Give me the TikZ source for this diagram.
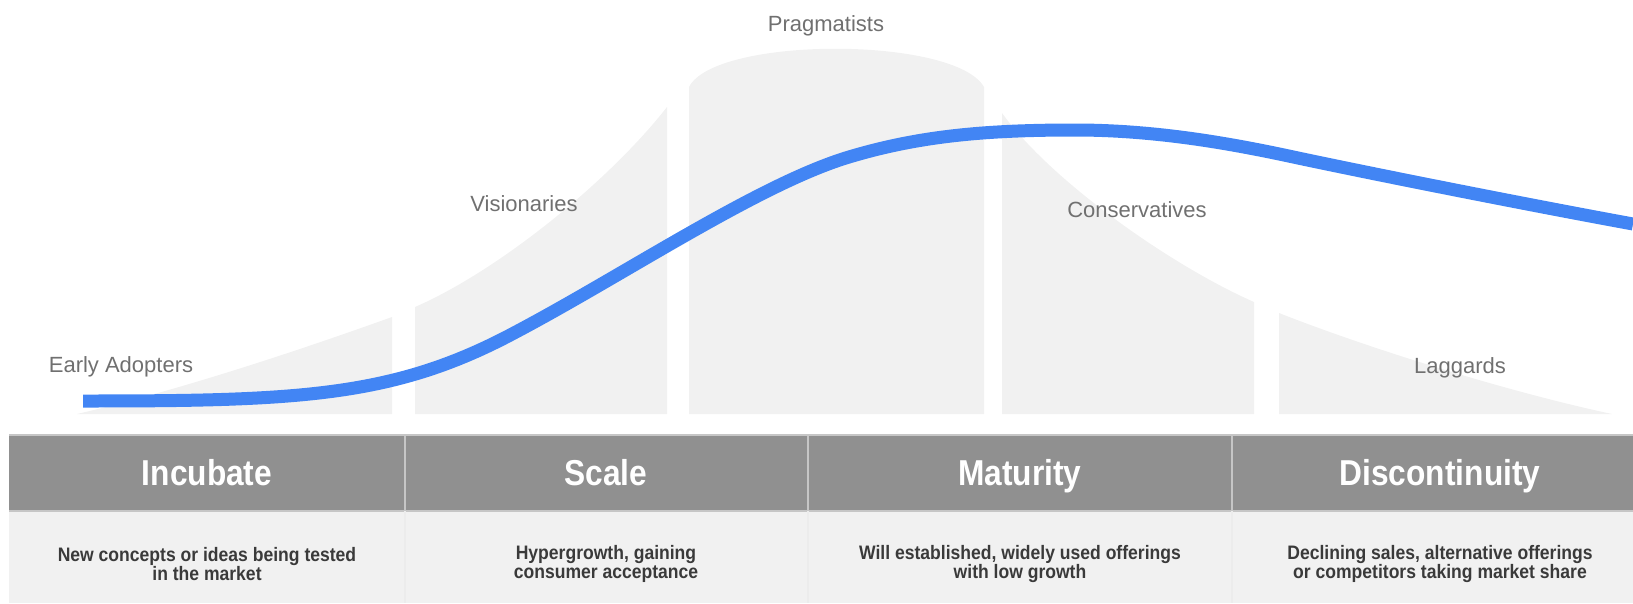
\documentclass[tikz,border=0pt]{standalone}
\usepackage{fontspec}
\setmainfont{Liberation Sans}
\newfontfamily\condfont[FakeStretch=0.88]{Liberation Sans}
\newfontfamily\blurbfont[FakeStretch=0.9]{Liberation Sans}
\usetikzlibrary{positioning}
\definecolor{curveblue}{HTML}{4285F4}
\definecolor{bellgray}{HTML}{F1F1F1}
\definecolor{labelgray}{HTML}{707070}
\definecolor{headgray}{HTML}{909090}
\definecolor{bodytext}{HTML}{3A3A3A}
\definecolor{rulegray}{HTML}{C6C6C6}
\tikzset{
  seg/.style={fill=bellgray},
  group/.style={text=labelgray, anchor=base, inner sep=0pt,
      font=\fontsize{22}{22}\selectfont},
  phase/.style={text=white, anchor=base, inner sep=0pt,
      font=\condfont\bfseries\fontsize{36}{36}\selectfont},
  blurb/.style={text=bodytext, align=center, inner sep=0pt,
      font=\blurbfont\bfseries\fontsize{19.5}{19.3}\selectfont},
}

\begin{document}
\begin{tikzpicture}[x=1pt, y=-1pt]
      \useasboundingbox (0,0) rectangle (1633,603);

      % adopter groups under the bell
      \fill [seg] (77,414) .. controls (180,390) and (300,350) .. (392,317) -- (392,414) -- cycle;
      \fill [seg] (415,414) -- (415,307) .. controls (500,270) and (610,180) .. (667,107) -- (667,414) -- cycle;
      \fill [seg] (689,414) -- (689,87) .. controls (715,36) and (955,36) .. (984,87) -- (984,414) -- cycle;
      \fill [seg] (1002,414) -- (1002,113) .. controls (1050,180) and (1170,265) .. (1254,302) -- (1254,414) -- cycle;
      \fill [seg] (1279,414) -- (1279,313) .. controls (1360,345) and (1500,390) .. (1612,414) -- cycle;

      \node [group] (early) at (121,372) {Early Adopters};
      \node [group] (vision) at (524,211) {Visionaries};
      \node [group] (prag) at (826,31) {Pragmatists};
      \node [group] (cons) at (1137,217) {Conservatives};
      \node [group] (lag) at (1460,373) {Laggards};

      % life cycle curve
      \draw [curveblue, line width=13pt]
      (83,401) .. controls (300,401) and (394,397) .. (514,333)
      .. controls (624,275) and (759,184) .. (849,157)
      .. controls (919,136) and (985,130) .. (1075,130)
      .. controls (1160,130) and (1238,145) .. (1298,158)
      .. controls (1390,177.5) and (1540,207) .. (1633,224);

      % phase table
      \fill [headgray] (9,434) rectangle (1633,511);
      \fill [bellgray] (9,511) rectangle (1633,603);
      \draw [rulegray, line width=1.5pt] (9,434.75) -- (1633,434.75);
      \draw [rulegray, line width=1.5pt] (9,511) -- (1633,511);
      \foreach \x in {405,808,1232}{
          \draw [rulegray, line width=1.5pt] (\x,434) -- (\x,511);
          \draw [gray!15, line width=1.5pt] (\x,511) -- (\x,603);
        }

      \foreach \x/\name/\txt in {207/incubate/Incubate, 606/scale/Scale,
          1020/maturity/Maturity, 1440/discont/Discontinuity}{
          \node [phase] (\name) at (\x,485) {\txt};
        }

      \node [blurb] (incubatetxt) at (207,564) {New concepts or ideas being tested\\in the market};
      \node [blurb] (scaletxt) at (606,564) {Hypergrowth, gaining\\consumer acceptance};
      \node [blurb] (maturitytxt) at (1020,564) {Will established, widely used offerings\\with low growth};
      \node [blurb] (discontxt) at (1440,564) {Declining sales, alternative offerings\\or competitors taking market share};
    \end{tikzpicture}
\end{document}
